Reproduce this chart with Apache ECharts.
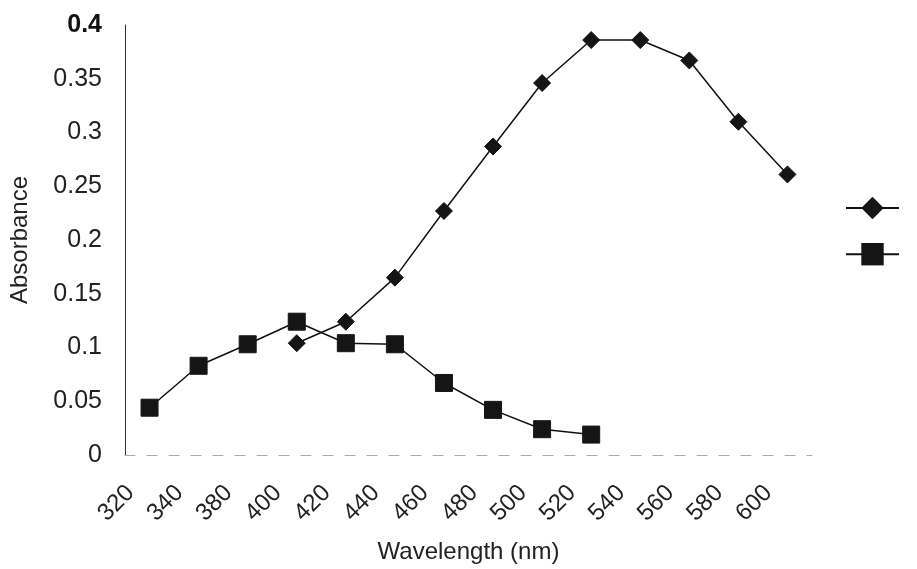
<!DOCTYPE html>
<html>
<head>
<meta charset="utf-8">
<script src="https://cdn.jsdelivr.net/npm/echarts@6/dist/echarts.min.js"></script>
<style>html,body{margin:0;padding:0;background:#fff}#c{width:917px;height:569px}</style>
</head>
<body>
<div id="c"></div>
<script>
// Wavelength categories (note: 360 is absent in the original)
const categories = ['320','340','380','400','420','440','460','480','500','520','540','560','580','600'];
// Diamond series (starts at 400 nm)
const diamondValues = [null, null, null, 0.104, 0.124, 0.165, 0.227, 0.287, 0.346, 0.386, 0.386, 0.367, 0.310, 0.261];
// Square series (ends at 520 nm)
const squareValues = [0.044, 0.083, 0.103, 0.124, 0.104, 0.103, 0.067, 0.042, 0.024, 0.019, null, null, null, null];
const seriesNames = ['Series1', 'Series2'];
const yMin = 0, yMax = 0.4, yStep = 0.05;

const FONT = "'Liberation Sans', Arial, sans-serif";
const chart = echarts.init(document.getElementById('c'), null, {renderer: 'canvas'});
chart.setOption({
  animation: false,
  backgroundColor: '#ffffff',
  grid: {left: 125, right: 105, top: 25, bottom: 114, containLabel: false},
  legend: {
    orient: 'vertical', left: 840, top: 189,
    itemWidth: 53, itemHeight: 28, itemGap: 21,
    formatter: () => '',
    data: seriesNames,
    textStyle: {fontSize: 1}
  },
  xAxis: {
    type: 'category', data: categories, boundaryGap: true,
    name: 'Wavelength (nm)', nameLocation: 'middle', nameGap: 85,
    nameTextStyle: {fontFamily: FONT, fontSize: 24, color: '#222'},
    axisLine: {show: true, lineStyle: {color: '#aaa', width: 1, type: [10, 12]}},
    axisTick: {show: false},
    axisLabel: {rotate: 45, margin: 15, padding: [0, 27, 0, 0], interval: 0,
      fontFamily: FONT, fontSize: 24, color: '#222'},
    splitLine: {show: false}
  },
  yAxis: {
    type: 'value', min: yMin, max: yMax, interval: yStep,
    name: 'Absorbance', nameLocation: 'middle', nameGap: 93, nameRotate: 90,
    nameTextStyle: {fontFamily: FONT, fontSize: 24, color: '#222'},
    axisLine: {show: true, lineStyle: {color: '#333', width: 1}},
    axisTick: {show: false},
    splitLine: {show: false},
    axisLabel: {margin: 23, fontFamily: FONT, fontSize: 25, color: '#222',
      formatter: v => (Math.abs(v - yMax) < 1e-9 ? '{b|' + String(+v.toFixed(2)) + '}' : String(+v.toFixed(2))),
      rich: {b: {fontFamily: FONT, fontSize: 25, fontWeight: 'bold', color: '#111'}}
    }
  },
  series: [
    {
      name: seriesNames[0], type: 'line', data: diamondValues,
      symbol: 'diamond', symbolSize: 17, connectNulls: false,
      lineStyle: {color: '#111', width: 1.5},
      itemStyle: {color: '#151515', borderColor: '#151515'}
    },
    {
      name: seriesNames[1], type: 'line', data: squareValues,
      symbol: 'rect', symbolSize: 17, connectNulls: false,
      lineStyle: {color: '#111', width: 1.5},
      itemStyle: {color: '#151515', borderColor: '#151515'}
    }
  ]
});
</script>
</body>
</html>
